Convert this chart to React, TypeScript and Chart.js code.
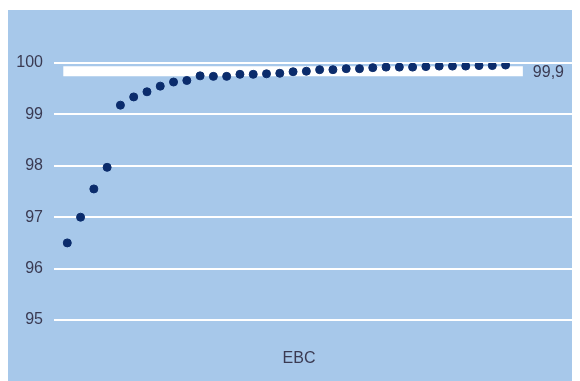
import React, { useEffect, useRef } from "react";
import { Chart, registerables } from "chart.js";

Chart.register(...registerables);

const pointIndex: number[] = [
  1, 2, 3, 4, 5, 6, 7, 8, 9, 10, 11, 12, 13, 14, 15, 16, 17,
  18, 19, 20, 21, 22, 23, 24, 25, 26, 27, 28, 29, 30, 31, 32, 33, 34,
];
const ebcValues: number[] = [
  96.5, 97.0, 97.55, 97.97, 99.18, 99.34, 99.44, 99.55, 99.63, 99.66, 99.75,
  99.74, 99.74, 99.78, 99.78, 99.79, 99.8, 99.83, 99.84, 99.87, 99.87, 99.89,
  99.89, 99.91, 99.92, 99.92, 99.92, 99.93, 99.94, 99.94, 99.94, 99.95, 99.95,
  99.96,
];
const yTicks: number[] = [95, 96, 97, 98, 99, 100];
const bandValue = 99.84;
const bandLabel = "99,9";
const bandRange: number[] = [0.7, 35.3];
const axisTitle = "EBC";

const TEXT = "#3a3a52";
const FONT = "'Liberation Sans', Arial, sans-serif";

export default function App() {
  const ref = useRef<HTMLCanvasElement | null>(null);

  useEffect(() => {
    if (!ref.current) return;
    const labelsPlugin = {
      id: "labels",
      afterDatasetsDraw(chart: any) {
        const { ctx, scales } = chart;
        ctx.save();
        ctx.fillStyle = TEXT;
        ctx.font = `16px ${FONT}`;
        ctx.textBaseline = "middle";
        ctx.textAlign = "left";
        ctx.fillText(
          bandLabel,
          scales.x.getPixelForValue(bandRange[1]) + 10,
          scales.y.getPixelForValue(bandValue) + 1
        );
        ctx.textAlign = "center";
        ctx.fillText(axisTitle, chart.width / 2 + 5, 349);
        ctx.restore();
      },
    };

    const chart = new Chart(ref.current, {
      type: "scatter",
      data: {
        datasets: [
          {
            type: "line",
            data: bandRange.map((x) => ({ x, y: bandValue })),
            borderColor: "#ffffff",
            borderWidth: 10,
            borderCapStyle: "butt",
            pointRadius: 0,
            order: 2,
          } as any,
          {
            data: pointIndex.map((x, i) => ({ x, y: ebcValues[i] })),
            backgroundColor: "#0b2c6c",
            borderColor: "#0b2c6c",
            pointRadius: 4,
            pointHoverRadius: 4,
            order: 1,
          },
        ],
      },
      options: {
        animation: false,
        responsive: false,
        events: [],
        layout: { padding: { left: 0, right: 8, top: 53, bottom: 61 } },
        plugins: { legend: { display: false }, tooltip: { enabled: false } },
        scales: {
          x: { type: "linear", display: false, min: 0, max: 39 },
          y: {
            min: 95,
            max: 100,
            afterFit: (s: any) => {
              s.width = 46;
            },
            afterBuildTicks: (s: any) => {
              s.ticks = yTicks.map((v) => ({ value: v }));
            },
            border: { display: false },
            grid: { color: "#ffffff", lineWidth: 2, drawTicks: false },
            ticks: {
              color: TEXT,
              padding: 11,
              font: { family: FONT, size: 16 },
            },
          },
        },
      },
      plugins: [labelsPlugin],
    });
    return () => chart.destroy();
  }, []);

  return (
    <div style={{ marginTop: 2, width: 572, height: 371, background: "#a7c8ea" }}>
      <canvas ref={ref} width={572} height={371} style={{ display: "block" }} />
    </div>
  );
}
